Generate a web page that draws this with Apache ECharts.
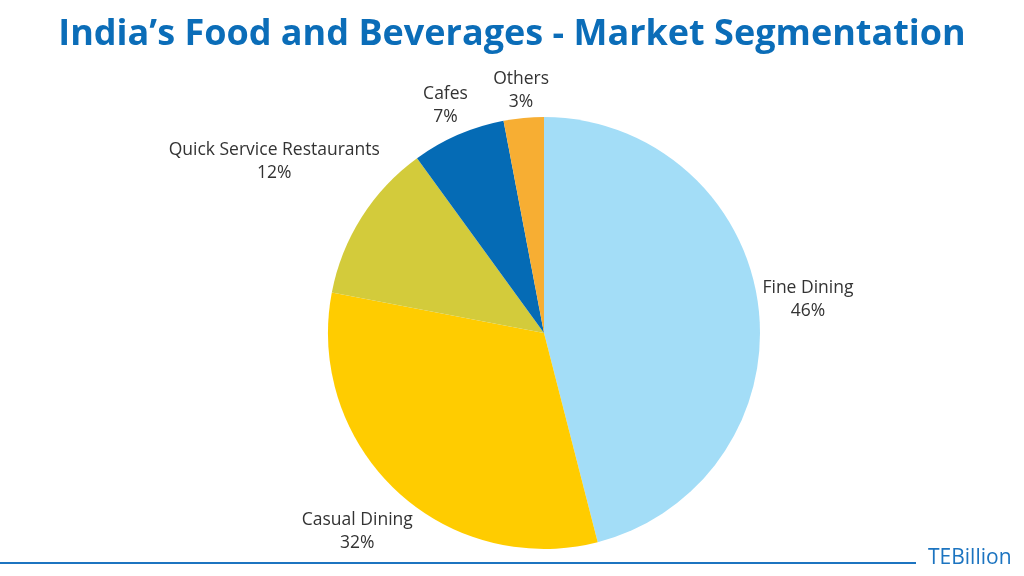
<!DOCTYPE html>
<html>
<head>
<meta charset="utf-8">
<script src="https://cdn.jsdelivr.net/npm/echarts@6/dist/echarts.min.js"></script>
<style>html,body{margin:0;padding:0;background:#fff}#c{width:1024px;height:576px}</style>
</head>
<body>
<div id="c"></div>
<script>
const titleText = "India’s Food and Beverages - Market Segmentation";
const categories = ["Fine Dining", "Casual Dining", "Quick Service Restaurants", "Cafes", "Others"];
const values = [46, 32, 12, 7, 3];
const colors = ["#A3DDF7", "#FFCC00", "#D3CB3B", "#056BB5", "#F7AE33"];
const brand = "TEBillion";

const CX = 544, CY = 333, R = 216;
const LABEL_GAP = 2;

const total = values.reduce((a, b) => a + b, 0);
const midFrac = [];
{
  let acc = 0;
  values.forEach(v => { midFrac.push((acc + v / 2) / total); acc += v; });
}

const chart = echarts.init(document.getElementById('c'));
const data = categories.map((n, i) => ({ name: n, value: values[i], itemStyle: { color: colors[i] } }));
chart.setOption({
  animation: false,
  title: {
    text: titleText, left: 'center', top: 12,
    textStyle: { fontFamily: 'Open Sans', fontWeight: 'bold', fontSize: 36, color: '#0B6DB8' }
  },
  series: [{
    type: 'pie',
    center: [CX, CY],
    radius: R,
    startAngle: 90,
    clockwise: true,
    avoidLabelOverlap: false,
    data: data,
    label: {
      show: true, position: 'outside',
      formatter: '{b}\n{c}%',
      fontFamily: 'Open Sans', fontSize: 17.5, color: '#333', lineHeight: 23
    },
    labelLine: { show: false },
    labelLayout: function (p) {
      const th = 2 * Math.PI * midFrac[p.dataIndex];
      const ux = Math.sin(th), uy = -Math.cos(th);
      const w = p.labelRect.width, h = p.labelRect.height;
      const ext = w / 2 * Math.abs(ux) + h / 2 * Math.abs(uy);
      const d = R + LABEL_GAP + ext;
      return {
        x: CX + ux * d,
        y: CY + uy * d,
        align: 'center', verticalAlign: 'middle'
      };
    },
    emphasis: { disabled: true }
  }],
  graphic: [
    { type: 'line', shape: { x1: 0, y1: 563, x2: 916, y2: 563 }, style: { stroke: '#1C74C0', lineWidth: 2 } },
    { type: 'text', left: 928, top: 548, style: { text: brand, fontFamily: 'Open Sans', fontSize: 21, fill: '#1C74C0' } }
  ]
});
</script>
</body>
</html>
